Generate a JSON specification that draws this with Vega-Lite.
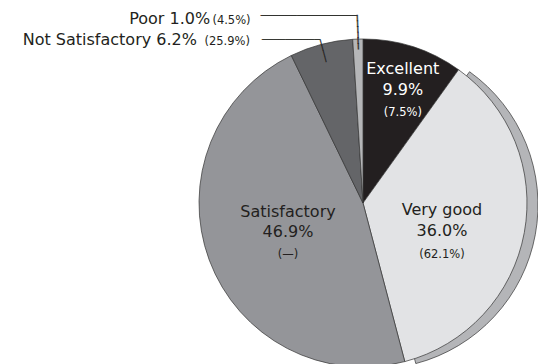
{
  "$schema": "https://vega.github.io/schema/vega-lite/v6.json",
  "width": 350,
  "height": 320,
  "padding": {"left": 188, "top": 43, "right": 0, "bottom": 1},
  "autosize": {"type": "none"},
  "background": "white",
  "config": {"view": {"stroke": null}, "text": {"font": "DejaVu Sans", "fill": "#231f20"}},
  "data": {
    "values": [
      {"cat": "Excellent", "share": 9.9, "label": "Excellent\n9.9%", "prev": "(7.5%)", "rank": 1},
      {"cat": "Very good", "share": 36.0, "label": "Very good\n36.0%", "prev": "(62.1%)", "rank": 2},
      {"cat": "Satisfactory", "share": 46.9, "label": "Satisfactory\n46.9%", "prev": "(—)", "rank": 3},
      {"cat": "Not Satisfactory", "share": 6.2, "label": "Not Satisfactory 6.2%", "prev": "(25.9%)", "rank": 4},
      {"cat": "Poor", "share": 1.0, "label": "Poor 1.0%", "prev": "(4.5%)", "rank": 5}
    ]
  },
  "encoding": {
    "theta": {"field": "share", "type": "quantitative", "stack": true},
    "order": {"field": "rank", "type": "quantitative"},
    "detail": {"field": "cat", "type": "nominal"}
  },
  "layer": [
    {
      "mark": {"type": "arc", "outerRadius": 164, "xOffset": 11, "yOffset": 2, "fill": "#b4b5b8", "stroke": "#333333", "strokeWidth": 0.7},
      "encoding": {"opacity": {"condition": {"test": "datum.cat === 'Very good'", "value": 1}, "value": 0}}
    },
    {
      "mark": {"type": "arc", "outerRadius": 164, "stroke": "#333333", "strokeWidth": 0.7},
      "encoding": {
        "color": {"field": "cat", "type": "nominal", "legend": null,
          "scale": {"domain": ["Excellent", "Very good", "Satisfactory", "Not Satisfactory", "Poor"],
                    "range": ["#231f20", "#e2e3e5", "#949599", "#646568", "#b5b6b8"]}}
      }
    },
    {
      "mark": {"type": "text", "radius": 130, "dy": -10, "fontSize": 16, "lineHeight": 20.5, "lineBreak": "\n", "align": "center", "baseline": "middle", "fill": "white"},
      "encoding": {"text": {"condition": {"test": "datum.cat === 'Excellent'", "field": "label"}, "value": ""}}
    },
    {
      "mark": {"type": "text", "radius": 130, "dy": 34, "fontSize": 11.5, "align": "center", "baseline": "middle", "fill": "white"},
      "encoding": {"text": {"condition": {"test": "datum.cat === 'Excellent'", "field": "prev"}, "value": ""}}
    },
    {
      "mark": {"type": "text", "radius": 80.3, "dy": -7.3, "fontSize": 16, "lineHeight": 20.5, "lineBreak": "\n", "align": "center", "baseline": "middle"},
      "encoding": {"text": {"condition": {"test": "datum.cat === 'Very good'", "field": "label"}, "value": ""}}
    },
    {
      "mark": {"type": "text", "radius": 80.3, "dy": 37.5, "fontSize": 11.5, "align": "center", "baseline": "middle"},
      "encoding": {"text": {"condition": {"test": "datum.cat === 'Very good'", "field": "prev"}, "value": ""}}
    },
    {
      "mark": {"type": "text", "radius": 80, "dy": -19.3, "fontSize": 16, "lineHeight": 20.5, "lineBreak": "\n", "align": "center", "baseline": "middle"},
      "encoding": {"text": {"condition": {"test": "datum.cat === 'Satisfactory'", "field": "label"}, "value": ""}}
    },
    {
      "mark": {"type": "text", "radius": 80, "dy": 24, "fontSize": 11.5, "align": "center", "baseline": "middle"},
      "encoding": {"text": {"condition": {"test": "datum.cat === 'Satisfactory'", "field": "prev"}, "value": ""}}
    },
    {
      "mark": {"type": "text", "radius": 188, "dx": -147, "dy": 8.9, "fontSize": 16, "align": "right", "baseline": "alphabetic"},
      "encoding": {"text": {"condition": {"test": "datum.cat === 'Poor'", "field": "label"}, "value": ""}}
    },
    {
      "mark": {"type": "text", "radius": 188, "dx": -106.5, "dy": 8.9, "fontSize": 11.5, "align": "right", "baseline": "alphabetic"},
      "encoding": {"text": {"condition": {"test": "datum.cat === 'Poor'", "field": "prev"}, "value": ""}}
    },
    {
      "mark": {"type": "text", "radius": 188, "dy": 0.5, "font": "DejaVu Sans Mono", "fontSize": 10, "align": "right", "baseline": "middle", "stroke": "#231f20", "strokeWidth": 0.2},
      "encoding": {"text": {"condition": {"test": "datum.cat === 'Poor'", "value": "────────────────"}, "value": ""}}
    },
    {
      "mark": {"type": "text", "radius": 171, "angle": 88.2, "font": "DejaVu Sans Mono", "fontSize": 9.4, "align": "center", "baseline": "middle", "fillOpacity": 0, "stroke": "#231f20", "strokeWidth": 0.6},
      "encoding": {"text": {"condition": {"test": "datum.cat === 'Poor'", "value": "──────"}, "value": ""}}
    },
    {
      "mark": {"type": "text", "radius": 169, "dx": -123, "dy": 5.4, "fontSize": 16, "align": "right", "baseline": "alphabetic"},
      "encoding": {"text": {"condition": {"test": "datum.cat === 'Not Satisfactory'", "field": "label"}, "value": ""}}
    },
    {
      "mark": {"type": "text", "radius": 169, "dx": -70, "dy": 5.4, "fontSize": 11.5, "align": "right", "baseline": "alphabetic"},
      "encoding": {"text": {"condition": {"test": "datum.cat === 'Not Satisfactory'", "field": "prev"}, "value": ""}}
    },
    {
      "mark": {"type": "text", "radius": 169, "dy": 0.5, "font": "DejaVu Sans Mono", "fontSize": 9.65, "align": "right", "baseline": "middle", "stroke": "#231f20", "strokeWidth": 0.2},
      "encoding": {"text": {"condition": {"test": "datum.cat === 'Not Satisfactory'", "value": "──────────"}, "value": ""}}
    },
    {
      "mark": {"type": "text", "radius": 157.4, "angle": 75.24, "font": "DejaVu Sans Mono", "fontSize": 9.6, "align": "center", "baseline": "middle", "stroke": "#231f20", "strokeWidth": 0.2},
      "encoding": {"text": {"condition": {"test": "datum.cat === 'Not Satisfactory'", "value": "────"}, "value": ""}}
    }
  ]
}
